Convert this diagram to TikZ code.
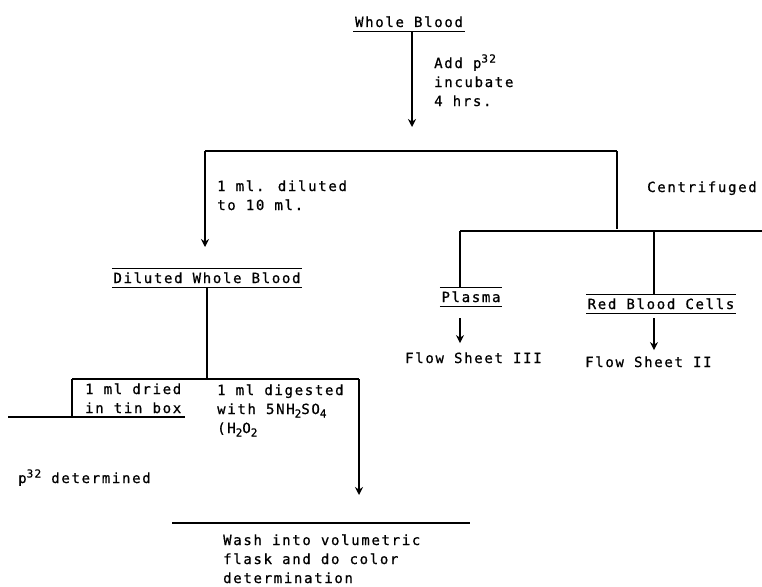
\documentclass[tikz,border=0pt]{standalone}
\usepackage{fontspec}
\newfontfamily\typer[LetterSpace=12, FakeBold=0.8]{DejaVu Sans Mono}
\usepackage{tikz}
\usetikzlibrary{arrows.meta,positioning}

% typed super- and subscripts
\newcommand{\upnum}[1]{\raisebox{5.5pt}{\fontsize{11}{11}\selectfont #1}}
\newcommand{\downnum}[1]{\raisebox{-3.5pt}{\fontsize{11}{11}\selectfont #1}}

\tikzset{
  typed/.style={font=\typer\fontsize{14}{19}\selectfont, inner sep=0pt, align=left},
  heading/.style={typed, text height=10pt, text depth=0pt, inner xsep=1.5pt, inner ysep=4pt, anchor=base},
  flow/.style={line width=1.2pt},
  flowarr/.style={flow, -{Stealth[length=8pt, width=8pt]}},
}

\begin{document}
\begin{tikzpicture}[x=1pt, y=-1pt]
\useasboundingbox (0,0) rectangle (762,586);

% Whole blood
\node[heading] (wb) at (409,27) {Whole Blood};
\draw[flow] (wb.south west) -- (wb.south east);
\coordinate (wbend) at (412,127);
\draw[flowarr] (wb.south -| wbend) -- (wbend);
% (multi-line nodes sit on the baseline of their last line)
\node[typed, anchor=base west] (incub) at (434,106) {Add p\upnum{32}\\incubate\\4 hrs.};

% First split: dilution / centrifuge
\coordinate (splitL) at (205,151);
\coordinate (splitR) at (617,151);
\draw[flow] (splitL) -- (splitR);
\coordinate (dilend) at (205,247);
\draw[flowarr] (splitL) -- (dilend);
\node[typed, anchor=base west] (dil) at (217,210) {1 ml. diluted\\to 10 ml.};
\coordinate (cfend) at (617,229);
\draw[flow] (splitR) -- (cfend);
\node[typed, anchor=base west] (cf) at (647,192) {Centrifuged};

% Centrifuged fractions
\coordinate (cfL) at (460,231);
\coordinate (cfR) at (762,231);
\draw[flow] (cfL) -- (cfR);
\coordinate (rbcjoin) at (654,231);
\node[heading] (plasma) at (471,302) {Plasma};
\draw[flow] (plasma.north west) -- (plasma.north east);
\draw[flow] (plasma.south west) -- (plasma.south east);
\draw[flow] (cfL) -- (cfL |- plasma.north);
\node[heading] (rbc) at (661,309) {Red Blood Cells};
\draw[flow] (rbc.north west) -- (rbc.north east);
\draw[flow] (rbc.south west) -- (rbc.south east);
\draw[flow] (rbcjoin) -- (rbcjoin |- rbc.north);

% On to the other flow sheets
\node[typed, anchor=base west] (fs3) at (405,363) {Flow Sheet III};
\node[typed, anchor=base west] (fs2) at (585,367) {Flow Sheet II};
\draw[flowarr, shorten <=12pt, shorten >=9pt] (cfL |- plasma.south) -- (cfL |- fs3.north);
\draw[flowarr, shorten <=5pt, shorten >=6pt] (rbcjoin |- rbc.south) -- (rbcjoin |- fs2.north);

% Diluted whole blood
\node[heading] (dwb) at (207,283) {Diluted Whole Blood};
\draw[flow] (dwb.north west) -- (dwb.north east);
\draw[flow] (dwb.south west) -- (dwb.south east);
\coordinate (dL) at (72,379);
\coordinate (dR) at (359,379);
\draw[flow] (dwb.south) -- (dwb.south |- dL);
\draw[flow] (dL) -- (dR);

% dried portion
\coordinate (dryC) at (72,417);
\coordinate (dryL) at (8,417);
\coordinate (dryR) at (185,417);
\draw[flow] (dL) -- (dryC);
\draw[flow] (dryL) -- (dryR);
\node[typed, anchor=base west] (dry) at (85,413) {1 ml dried\\in tin box};
\node[typed, anchor=base west] (p32) at (18,483) {p\upnum{32} determined};

% digested portion
\node[typed, anchor=base west] (dig) at (217,433) {1 ml digested\\with 5NH\downnum{2}SO\downnum{4}\\(H\downnum{2}O\downnum{2}};
\coordinate (washend) at (359,495);
\draw[flowarr] (dR) -- (washend);
\coordinate (washL) at (172,523);
\coordinate (washR) at (470,523);
\draw[flow] (washL) -- (washR);
\node[typed, anchor=base west] (wash) at (223,583) {Wash into volumetric\\flask and do color\\determination};
\end{tikzpicture}
\end{document}
